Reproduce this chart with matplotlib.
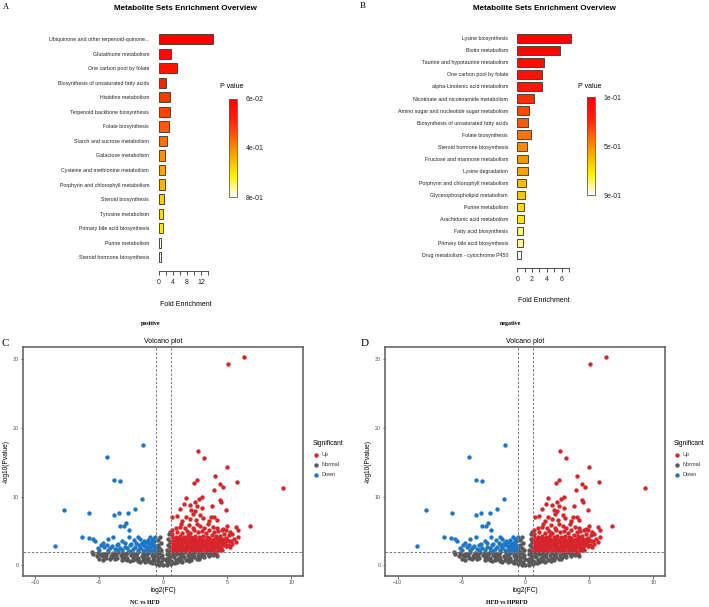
import numpy as np
import matplotlib
matplotlib.use("Agg")
import matplotlib.pyplot as plt
from matplotlib.colors import LinearSegmentedColormap, Normalize
from matplotlib.cm import ScalarMappable

plt.rcParams["font.family"] = ["Liberation Sans", "DejaVu Sans"]

W, H = 709, 607

# =========================
# Enrichment data (A = positive, B = negative)
# =========================
pos_sets = ["Ubiquinone and other terpenoid-quinone...", "Glutathione metabolism",
            "One carbon pool by folate", "Biosynthesis of unsaturated fatty acids",
            "Histidine metabolism", "Terpenoid backbone biosynthesis",
            "Folate biosynthesis", "Starch and sucrose metabolism",
            "Galactose metabolism", "Cysteine and methionine metabolism",
            "Porphyrin and chlorophyll metabolism", "Steroid biosynthesis",
            "Tyrosine metabolism", "Primary bile acid biosynthesis",
            "Purine metabolism", "Steroid hormone biosynthesis"]
pos_fold = [15.2, 3.55, 5.1, 2.15, 3.1, 3.1, 2.8, 2.4, 1.9, 1.85, 1.85, 1.4, 1.1, 1.1, 0.75, 0.75]
pos_p = [0.058, 0.11, 0.15, 0.2, 0.25, 0.27, 0.32, 0.36, 0.42, 0.46, 0.48, 0.53, 0.56, 0.58, 0.73, 0.75]

neg_sets = ["Lysine biosynthesis", "Biotin metabolism", "Taurine and hypotaurine metabolism",
            "One carbon pool by folate", "alpha-Linolenic acid metabolism",
            "Nicotinate and nicotinamide metabolism", "Amino sugar and nucleotide sugar metabolism",
            "Biosynthesis of unsaturated fatty acids", "Folate biosynthesis",
            "Steroid hormone biosynthesis", "Fructose and mannose metabolism",
            "Lysine degradation", "Porphyrin and chlorophyll metabolism",
            "Glycerophospholipid metabolism", "Purine metabolism",
            "Arachidonic acid metabolism", "Fatty acid biosynthesis",
            "Primary bile acid biosynthesis", "Drug metabolism - cytochrome P450"]
neg_fold = [7.3, 5.8, 3.65, 3.3, 3.3, 2.3, 1.6, 1.45, 1.85, 1.27, 1.45, 1.4, 1.14, 1.0, 0.9, 0.9, 0.72, 0.72, 0.54]
neg_p = [0.1, 0.13, 0.17, 0.2, 0.22, 0.3, 0.36, 0.4, 0.45, 0.5, 0.52, 0.55, 0.6, 0.63, 0.68, 0.7, 0.8, 0.82, 0.9]

# =========================
# Volcano data (log2 FC, -log10 P)
# =========================
up_pts = [
    (0.62, 2.15), (0.85, 2.3), (1.05, 2.1), (1.3, 2.25), (1.55, 2.12), (1.8, 2.28), (2.05, 2.1),
    (2.3, 2.2), (2.55, 2.3), (2.8, 2.1), (3.05, 2.25), (3.3, 2.15), (3.55, 2.3), (3.8, 2.12),
    (4.1, 2.0), (4.35, 2.25), (4.6, 2.2),
    (0.7, 2.6), (0.95, 2.5), (1.2, 2.7), (1.45, 2.55), (1.7, 2.65), (1.95, 2.5), (2.2, 2.7),
    (2.45, 2.55), (2.7, 2.65), (2.95, 2.5), (3.2, 2.7), (3.45, 2.55), (3.7, 2.65), (3.95, 2.5),
    (4.2, 2.7), (4.5, 2.6), (4.9, 2.8), (5.2, 2.65),
    (0.75, 3.0), (1.0, 2.9), (1.25, 3.1), (1.5, 2.95), (1.75, 3.05), (2.0, 2.9), (2.25, 3.1),
    (2.5, 2.95), (2.75, 3.05), (3.0, 2.9), (3.25, 3.1), (3.5, 2.95), (3.75, 3.05), (4.0, 2.9),
    (4.25, 3.1), (4.55, 3.0), (4.8, 3.15), (5.05, 3.0),
    (0.8, 3.4), (1.05, 3.3), (1.3, 3.5), (1.55, 3.35), (1.8, 3.45), (2.05, 3.3), (2.3, 3.5),
    (2.55, 3.35), (2.8, 3.45), (3.05, 3.3), (3.3, 3.5), (3.55, 3.35), (3.8, 3.45), (4.05, 3.3),
    (4.3, 3.5), (4.6, 3.4), (4.85, 3.55), (5.3, 3.5), (5.65, 3.4),
    (0.9, 3.8), (1.15, 3.7), (1.4, 3.9), (1.65, 3.75), (1.9, 3.85), (2.15, 3.7), (2.4, 3.9),
    (2.65, 3.75), (2.9, 3.85), (3.15, 3.7), (3.4, 3.9), (3.7, 3.75), (3.95, 3.85), (4.2, 3.95),
    (4.45, 3.8), (4.7, 3.9), (5.0, 3.75), (5.5, 3.9),
    (1.0, 4.2), (1.3, 4.3), (1.6, 4.15), (1.9, 4.4), (2.2, 4.2), (2.5, 4.35), (2.8, 4.15),
    (3.1, 4.3), (3.4, 4.2), (3.8, 4.4), (4.1, 4.25), (4.4, 4.35), (4.75, 4.5), (5.1, 4.4), (5.4, 4.6),
    (0.65, 4.6), (1.1, 4.9), (1.5, 4.7), (1.85, 5.0), (2.1, 4.75), (2.4, 5.1), (2.7, 4.8),
    (3.0, 5.0), (3.35, 4.7), (3.6, 5.2), (4.0, 4.8), (4.3, 5.0), (4.55, 5.2), (4.9, 5.1),
    (5.8, 5.2), (5.2, 4.9),
    (1.3, 5.6), (1.7, 5.4), (2.0, 5.9), (2.3, 5.5), (2.6, 6.1), (2.9, 5.7), (3.2, 5.4),
    (3.5, 6.0), (3.9, 5.6), (4.2, 5.5), (4.7, 5.3), (5.0, 5.8), (6.74, 5.7), (5.7, 5.6),
    (1.1, 7.2), (1.5, 6.5), (1.8, 7.0), (2.1, 6.8), (2.3, 7.5), (2.55, 6.6), (2.9, 7.3),
    (3.1, 6.9), (3.6, 6.4), (4.2, 6.6), (3.7, 7.1), (1.3, 8.2), (2.2, 8.1), (2.5, 7.9),
    (3.0, 8.4), (4.9, 8.0), (4.0, 7.1),
    (1.8, 9.8), (2.1, 8.8), (2.45, 9.2), (2.8, 9.7), (3.0, 10.0), (2.6, 8.6), (3.8, 8.6),
    (4.4, 9.5), (4.5, 9.3), (1.6, 8.9),
    (0.75, 2.4), (1.15, 2.45), (1.6, 2.4), (2.05, 2.45), (2.55, 2.4), (3.0, 2.45), (3.4, 2.4),
    (3.85, 2.45), (4.3, 2.4), (0.85, 2.8), (1.3, 2.85), (1.8, 2.8), (2.3, 2.85), (2.8, 2.8),
    (3.3, 2.85), (3.8, 2.8), (4.3, 2.85), (0.9, 3.2), (1.4, 3.25), (1.9, 3.2), (2.4, 3.25),
    (2.9, 3.2), (3.4, 3.25), (3.9, 3.2), (4.4, 3.25), (5.4, 3.1), (1.0, 3.6), (1.5, 3.65),
    (2.0, 3.6), (2.5, 3.65), (3.0, 3.6), (3.5, 3.65), (4.0, 3.6), (4.5, 3.65), (5.1, 3.6),
    (1.2, 4.0), (1.75, 4.05), (2.35, 4.0), (2.95, 4.05), (3.6, 4.0), (4.25, 4.05), (4.9, 4.0),
    (5.85, 4.2), (0.66, 5.1), (0.7, 3.6), (0.68, 4.1), (0.72, 7.0), (1.0, 5.4), (1.4, 6.0),
    (2.42, 12.0), (2.6, 12.5), (3.98, 11.0), (4.43, 11.9), (4.69, 11.46), (4.06, 13.0),
    (5.78, 12.2), (4.95, 14.3), (9.35, 11.2), (2.68, 16.65), (3.18, 15.7), (5.08, 29.3),
    (6.3, 30.3), (4.9, 2.8),
]

down_pts = [
    (-1.58, 17.6), (-4.375, 15.8), (-3.88, 12.5), (-3.39, 12.3), (-1.64, 9.6), (-7.76, 8.1),
    (-5.78, 7.6), (-3.85, 7.4), (-3.44, 7.6), (-2.76, 7.6), (-2.19, 8.2), (-3.36, 5.8),
    (-3.05, 5.7), (-2.89, 6.2), (-2.66, 5.2), (-6.38, 4.2), (-5.83, 4.0), (-8.46, 2.8),
    (-5.47, 3.8), (-5.34, 3.5), (-5.08, 2.5),
    (-4.9, 2.9), (-4.6, 2.7), (-4.4, 3.0), (-4.2, 2.6), (-4.0, 2.8), (-3.8, 2.4), (-3.6, 2.9),
    (-3.4, 2.6), (-3.2, 2.3), (-3.0, 2.7), (-2.8, 2.5), (-2.6, 2.9), (-2.4, 2.4), (-2.2, 2.7),
    (-2.0, 2.2), (-1.8, 2.6), (-1.6, 2.3), (-1.4, 2.8), (-1.2, 2.4), (-1.0, 2.6), (-0.8, 2.3),
    (-0.65, 2.7),
    (-4.7, 3.3), (-3.5, 3.1), (-3.0, 3.3), (-2.5, 3.1), (-2.1, 3.2), (-1.9, 3.0), (-1.7, 3.3),
    (-1.5, 3.1), (-1.3, 3.4), (-1.1, 3.0), (-0.9, 3.2), (-0.7, 3.5),
    (-3.9, 4.1), (-2.7, 4.2), (-2.3, 3.7), (-2.0, 4.1), (-1.8, 3.8), (-1.2, 3.7), (-1.0, 4.1),
    (-0.8, 3.9), (-0.62, 4.2), (-1.5, 3.6), (-3.2, 3.6), (-4.3, 3.8),
    (-1.4, 2.15), (-1.1, 2.2), (-0.9, 2.1), (-0.75, 2.15), (-2.6, 2.15), (-3.6, 2.2),
    (-4.3, 2.3), (-5.0, 2.2), (-1.3, 2.6), (-0.95, 2.85), (-0.7, 3.0), (-1.6, 2.9),
    (-0.85, 3.55), (-1.15, 3.3), (-0.68, 2.4),
]

normal_pts = [
    (-5.1, 1.85), (-4.75, 1.7), (-4.35, 1.9), (-3.95, 1.75), (-3.55, 1.9), (-3.15, 1.8),
    (-2.75, 1.92), (-2.35, 1.78), (-1.95, 1.9), (-1.55, 1.75), (-1.15, 1.88), (-0.75, 1.8),
    (-0.4, 1.9), (0.6, 1.75), (0.9, 1.9), (1.3, 1.8), (1.7, 1.92), (2.1, 1.78),
    (2.5, 1.9), (2.9, 1.75), (3.3, 1.88), (3.7, 1.8), (4.15, 1.7),
    (-4.9, 1.45), (-4.5, 1.55), (-4.1, 1.4), (-3.7, 1.55), (-3.3, 1.45), (-2.9, 1.6),
    (-2.5, 1.45), (-2.1, 1.55), (-1.7, 1.4), (-1.3, 1.6), (-0.9, 1.45), (-0.5, 1.55),
    (0.7, 1.45), (1.1, 1.6), (1.5, 1.45), (1.9, 1.55), (2.3, 1.4),
    (2.7, 1.55), (3.1, 1.45), (3.5, 1.6), (3.9, 1.5),
    (-4.45, 1.1), (-4.0, 1.2), (-3.6, 1.05), (-3.2, 1.2), (-2.8, 1.1), (-2.4, 1.2),
    (-2.0, 1.05), (-1.6, 1.2), (-1.2, 1.1), (-0.8, 1.2), (-0.4, 1.05), (0.4, 1.1),
    (0.8, 1.2), (1.2, 1.05), (1.6, 1.2), (2.0, 1.1), (2.4, 1.2), (2.8, 1.05), (3.2, 1.2),
    (-3.2, 0.85), (-2.8, 0.75), (-2.4, 0.85), (-2.0, 0.7), (-1.6, 0.85), (-1.2, 0.75),
    (-0.8, 0.85), (-0.4, 0.7), (0.2, 0.8), (0.6, 0.7), (1.0, 0.85), (1.4, 0.75), (1.8, 0.85),
    (2.2, 0.8), (2.6, 0.9),
    (-1.8, 0.5), (-1.4, 0.45), (-1.0, 0.5), (-0.6, 0.4), (-0.2, 0.45), (0.3, 0.4), (0.7, 0.5),
    (1.1, 0.45), (1.5, 0.55),
    (-0.6, 0.2), (-0.3, 0.12), (0.0, 0.05), (0.3, 0.1), (0.6, 0.2), (0.9, 0.3), (-0.9, 0.3),
    (-4.55, 1.65), (-3.75, 1.68), (-2.95, 1.62), (-2.15, 1.7), (-1.35, 1.65), (-0.55, 1.7),
    (0.75, 1.65), (1.5, 1.7), (2.3, 1.62), (3.1, 1.68), (3.9, 1.75),
    (-4.7, 1.3), (-3.9, 1.32), (-3.1, 1.28), (-2.3, 1.35), (-1.5, 1.3), (-0.7, 1.32),
    (0.6, 1.3), (1.4, 1.35), (2.2, 1.28), (3.0, 1.32), (3.6, 1.3),
    (-3.8, 0.95), (-3.0, 0.98), (-2.2, 0.92), (-1.4, 0.98), (-0.6, 0.95), (0.45, 0.92),
    (1.2, 0.98), (2.0, 0.95), (2.8, 0.98),
    (-2.6, 0.6), (-1.9, 0.62), (-1.2, 0.58), (-0.5, 0.6), (0.5, 0.6), (1.3, 0.62), (2.0, 0.6),
    (-0.55, 2.4), (-0.45, 3.0), (-0.4, 3.7), (-0.3, 2.6), (-0.25, 4.1), (-0.2, 3.2),
    (-0.15, 2.2), (-0.1, 1.5), (-0.05, 0.9), (-0.3, 1.75), (-0.2, 1.2),
    (0.3, 2.3), (0.35, 3.0), (0.4, 3.8), (0.45, 4.5), (0.5, 2.7), (0.55, 3.4), (0.3, 1.6),
    (0.25, 1.0), (0.5, 4.9), (0.4, 1.95), (0.5, 1.3),
    (-5.0, 0.95), (-5.5, 1.6), (-4.7, 0.8), (-5.2, 1.3), (3.6, 1.6), (4.2, 1.3), (-5.6, 1.9),
    (3.85, 2.0), (-4.2, 0.9), (-4.0, 1.55),
]

fc_cut = 0.585
p_cut = 2.0

cmap = LinearSegmentedColormap.from_list(
    "pval", [(0.0, "#FF0000"), (0.22, "#FF2200"), (0.52, "#FF9000"),
             (0.78, "#FFF000"), (1.0, "#FFFFFF")])


def px_box(x0, y0, x1, y1):
    return [x0 / W, 1 - y1 / H, (x1 - x0) / W, (y1 - y0) / H]


fig = plt.figure(figsize=(W / 100, H / 100), dpi=100)


def draw_enrichment(box, xlim, ybottom, names, fold, pvals, axis_max, tick_step, label_every,
                    cbox, prange, plabels, cx):
    ax = fig.add_axes(px_box(*box))
    norm = Normalize(vmin=prange[0], vmax=prange[1])
    ypos = np.arange(len(names))
    ax.barh(ypos, fold, height=0.7, color=cmap(norm(np.array(pvals))),
            edgecolor="#4d4438", linewidth=0.7)
    ax.set_yticks(ypos)
    ax.set_yticklabels(names, fontsize=3.8, color="#222222")
    ax.tick_params(axis="y", length=0, pad=5)
    ticks = np.arange(0, axis_max + 0.01, tick_step)
    ax.set_xticks(ticks)
    ax.set_xticklabels([f"{t:g}" if i % label_every == 0 else "" for i, t in enumerate(ticks)],
                       fontsize=5, color="#222222")
    ax.tick_params(axis="x", length=2.8, width=0.6, color="#333333", pad=3)
    ax.set_xlim(*xlim)
    ax.set_ylim(ybottom, -0.5)
    for s in ["left", "top", "right"]:
        ax.spines[s].set_visible(False)
    ax.spines["bottom"].set_bounds(0, axis_max)
    ax.spines["bottom"].set_linewidth(0.6)
    ax.spines["bottom"].set_color("#333333")
    ax.patch.set_alpha(0)

    cax = fig.add_axes(px_box(*cbox))
    sm = ScalarMappable(norm=norm, cmap=cmap)
    mid = (prange[0] + prange[1]) / 2
    cb = fig.colorbar(sm, cax=cax, ticks=[prange[0], mid, prange[1]])
    cb.set_ticklabels(plabels)
    cax.invert_yaxis()
    cax.tick_params(length=0, pad=6.5, labelsize=5, labelcolor="#222222")
    cb.outline.set_edgecolor("#6a5a4a")
    cb.outline.set_linewidth(0.6)
    fig.text(cx[0] / W, 1 - cx[1] / H, "P value", fontsize=5, ha="left", va="center")


draw_enrichment((156, 32, 215, 271), (-0.76, 15.86), 15.95, pos_sets, pos_fold, pos_p,
                14, 2, 2, (228.7, 98.7, 236.7, 197.3), (0.058, 0.75),
                ["6e-02", "4e-01", "8e-01"], (220, 87))
draw_enrichment((515, 32.3, 575, 267.7), (-0.31, 7.8), 19.05, neg_sets, neg_fold, neg_p,
                7, 1, 2, (586.7, 97.3, 594.7, 195), (0.1, 0.9),
                ["1e-01", "5e-01", "9e-01"], (578, 86))

for x, y in [(185.5, 8), (544, 8)]:
    fig.text(x / W, 1 - y / H, "Metabolite Sets Enrichment Overview", fontsize=5.8,
             fontweight="bold", ha="center", va="center")
for x, y in [(185.5, 304), (544, 300)]:
    fig.text(x / W, 1 - y / H, "Fold Enrichment", fontsize=5, ha="center", va="center")


def draw_volcano(box, leg_xy):
    ax = fig.add_axes(px_box(*box))
    nx, ny = zip(*normal_pts)
    dx, dy = zip(*down_pts)
    ux, uy = zip(*up_pts)
    h_norm = ax.scatter(nx, ny, s=10, c="#585858", linewidths=0, label="Normal")
    h_down = ax.scatter(dx, dy, s=10, c="#1f77c4", linewidths=0, label="Down")
    h_up = ax.scatter(ux, uy, s=10, c="#d7262b", linewidths=0, label="Up")
    for v in (-fc_cut, fc_cut):
        ax.axvline(v, color="#777777", lw=0.7, ls=(0, (2.5, 1.8)))
    ax.axhline(p_cut, color="#777777", lw=0.7, ls=(0, (2.5, 1.8)))
    ax.set_xlim(-10.96, 10.94)
    ax.set_ylim(-1.5, 31.8)
    ax.set_xticks([-10, -5, 0, 5, 10])
    ax.set_yticks([0, 10, 20, 30])
    ax.tick_params(labelsize=3.8, labelcolor="#4d4d4d", length=1.8, width=0.5,
                   color="#333333", pad=1.5)
    for s in ax.spines.values():
        s.set_color("#5a5a5a")
        s.set_linewidth(1.1)
    ax.set_title("Volcano plot", fontsize=5, pad=3)
    ax.set_xlabel("log2(FC)", fontsize=4.8, labelpad=1)
    ax.set_ylabel("-log10(Pvalue)", fontsize=4.8, labelpad=2)
    leg = ax.legend(handles=[h_up, h_norm, h_down], title="Significant", loc="upper left",
                    bbox_to_anchor=(leg_xy[0] / W, 1 - leg_xy[1] / H),
                    bbox_transform=fig.transFigure, frameon=False, fontsize=4,
                    title_fontsize=4.8, alignment="left", borderpad=0,
                    handletextpad=0.6, handlelength=1.0, labelspacing=0.9, borderaxespad=0)
    for t in leg.get_texts():
        t.set_color("#333333")


draw_volcano((23, 347, 303.3, 575.7), (313, 440))
draw_volcano((385.3, 347, 665.3, 575.7), (674, 440))

# captions and panel letters
serif = ["Liberation Serif", "DejaVu Serif"]
for x, y, s in [(151, 324, "positive"), (511, 324, "negative"),
                (145, 603, "NC vs HFD"), (507, 603, "HFD vs HPRFD")]:
    fig.text(x / W, 1 - y / H, s, fontsize=4.3, fontweight="bold", family=serif,
             ha="center", va="center")
for x, y, s, fs in [(5.5, 7, "A", 6), (362.5, 6, "B", 6.5), (5, 343, "C", 8), (365, 343, "D", 8)]:
    fig.text(x / W, 1 - y / H, s, fontsize=fs, family=serif, ha="center", va="center")

fig.savefig("out.png", dpi=100)
